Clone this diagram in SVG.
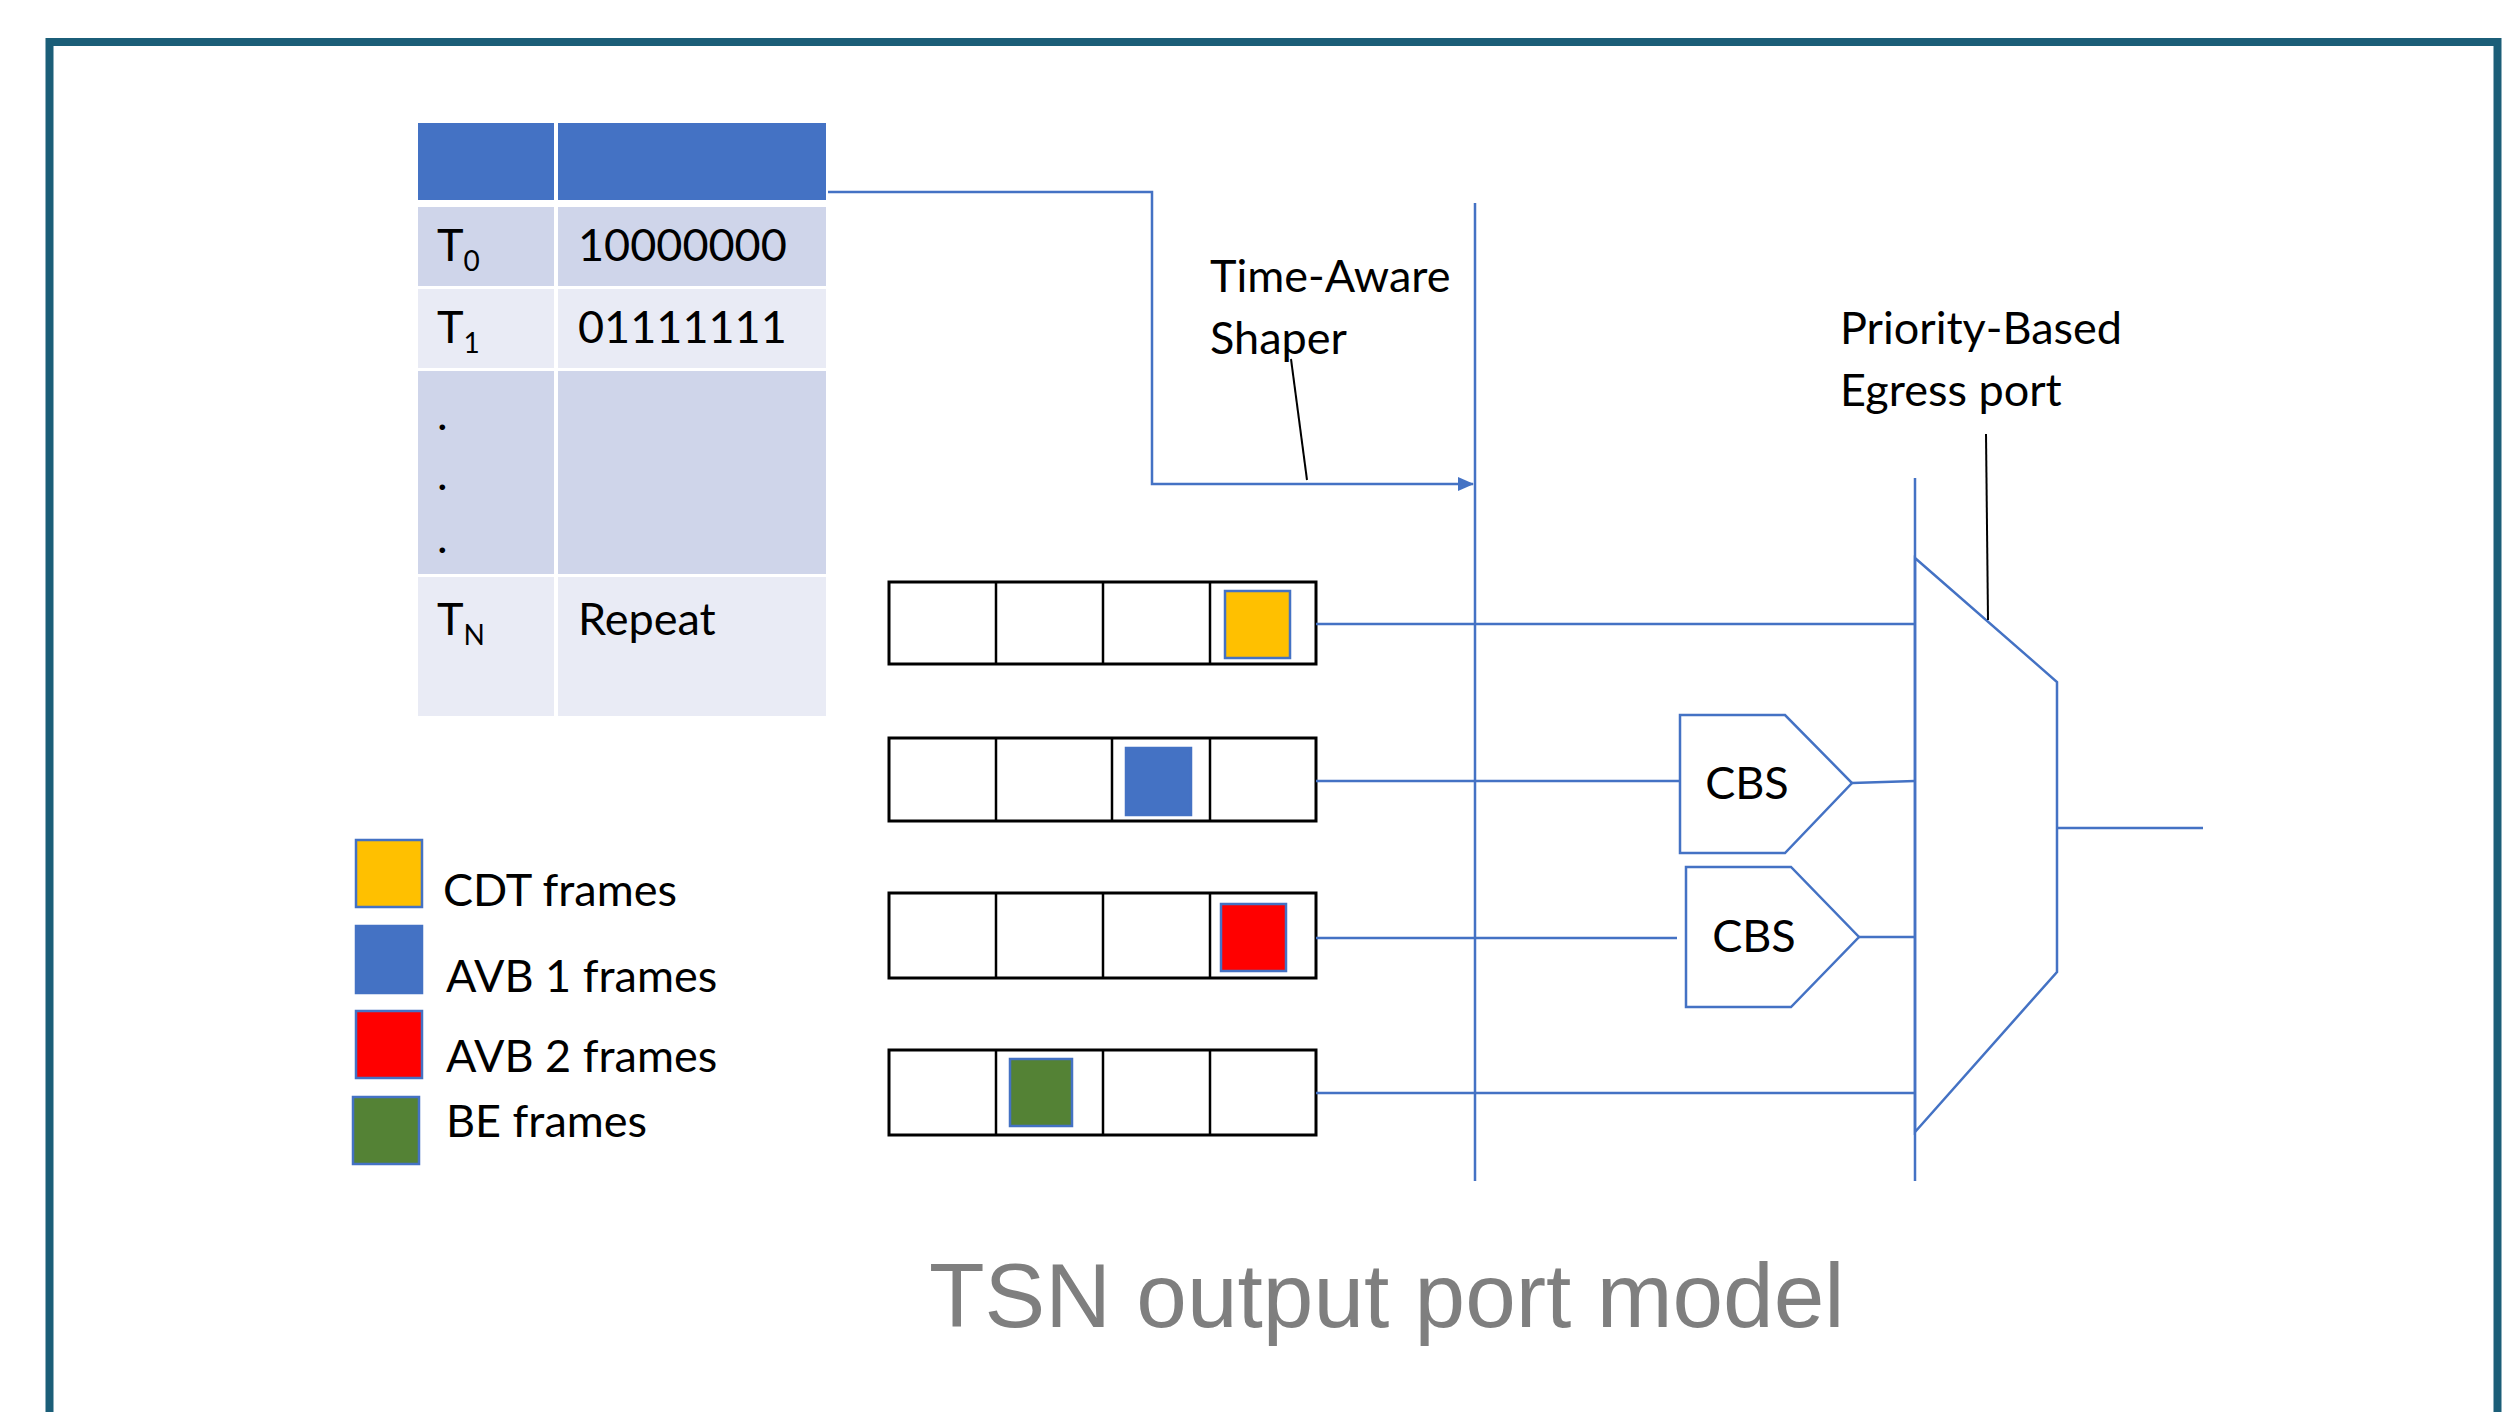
<svg xmlns="http://www.w3.org/2000/svg" width="2508" height="1412" viewBox="0 0 2508 1412">
<style>
.t{font-family:Lato,"Open Sans","Liberation Sans",sans-serif;fill:#000;font-size:45px}
.sub{font-size:28px}
.ln{fill:none;stroke:#4472C4;stroke-width:2.5}
.ld{fill:none;stroke:#000;stroke-width:2}
.q{fill:#fff;stroke:#000;stroke-width:3}
.qd{stroke:#000;stroke-width:2.5}
.blk{stroke:#4472C4;stroke-width:2.5}
.sh{fill:#fff;stroke:#4472C4;stroke-width:2.5}
</style>
<defs>
<marker id="arr" markerWidth="16" markerHeight="14" refX="15" refY="7" orient="auto" markerUnits="userSpaceOnUse" viewBox="0 0 16 14">
<path d="M0,0 L16,7 L0,14 z" fill="#4472C4"/>
</marker>
</defs>
<rect width="2508" height="1412" fill="#fff"/>
<path d="M49.5,1420 V42 H2497.5 V1420" fill="none" stroke="#1B5E78" stroke-width="8"/>

<g id="gate-table">
<rect x="418" y="123" width="136" height="77" fill="#4472C4"/>
<rect x="558" y="123" width="268" height="77" fill="#4472C4"/>
<rect x="418" y="207" width="136" height="79" fill="#CFD5EA"/>
<rect x="558" y="207" width="268" height="79" fill="#CFD5EA"/>
<rect x="418" y="289" width="136" height="79" fill="#E9EBF5"/>
<rect x="558" y="289" width="268" height="79" fill="#E9EBF5"/>
<rect x="418" y="371" width="136" height="203" fill="#CFD5EA"/>
<rect x="558" y="371" width="268" height="203" fill="#CFD5EA"/>
<rect x="418" y="577" width="136" height="139" fill="#E9EBF5"/>
<rect x="558" y="577" width="268" height="139" fill="#E9EBF5"/>
<text class="t" x="437" y="261">T<tspan class="sub" dy="10">0</tspan></text>
<text class="t" x="578" y="261">10000000</text>
<text class="t" x="437" y="343">T<tspan class="sub" dy="10">1</tspan></text>
<text class="t" x="578" y="343">01111111</text>
<text class="t" x="437" y="430">.</text>
<text class="t" x="437" y="490">.</text>
<text class="t" x="437" y="553">.</text>
<text class="t" x="437" y="635">T<tspan class="sub" dy="10">N</tspan></text>
<text class="t" x="578" y="635">Repeat</text>
</g>

<g id="tas-label">
<text class="t" x="1210" y="292">Time-Aware</text>
<text class="t" x="1210" y="354">Shaper</text>
</g>
<g id="egress-label">
<text class="t" x="1840" y="344">Priority-Based</text>
<text class="t" x="1840" y="406">Egress port</text>
</g>

<g id="queue-cdt">
<rect class="q" x="889" y="582" width="427" height="82"/>
<line class="qd" x1="996" y1="582" x2="996" y2="664"/>
<line class="qd" x1="1103" y1="582" x2="1103" y2="664"/>
<line class="qd" x1="1210" y1="582" x2="1210" y2="664"/>
<rect class="blk" x="1225" y="591" width="65" height="67" fill="#FFC000"/>
</g>
<g id="queue-avb1">
<rect class="q" x="889" y="738" width="427" height="83"/>
<line class="qd" x1="996" y1="738" x2="996" y2="821"/>
<line class="qd" x1="1112" y1="738" x2="1112" y2="821"/>
<line class="qd" x1="1210" y1="738" x2="1210" y2="821"/>
<rect class="blk" x="1126" y="748" width="65" height="67" fill="#4472C4"/>
</g>
<g id="queue-avb2">
<rect class="q" x="889" y="893" width="427" height="85"/>
<line class="qd" x1="996" y1="893" x2="996" y2="978"/>
<line class="qd" x1="1103" y1="893" x2="1103" y2="978"/>
<line class="qd" x1="1210" y1="893" x2="1210" y2="978"/>
<rect class="blk" x="1221" y="904" width="65" height="67" fill="#FF0000"/>
</g>
<g id="queue-be">
<rect class="q" x="889" y="1050" width="427" height="85"/>
<line class="qd" x1="996" y1="1050" x2="996" y2="1135"/>
<line class="qd" x1="1103" y1="1050" x2="1103" y2="1135"/>
<line class="qd" x1="1210" y1="1050" x2="1210" y2="1135"/>
<rect class="blk" x="1010" y="1059" width="62" height="67" fill="#548235"/>
</g>

<g id="cbs1">
<path class="sh" d="M1680,715 H1785 L1852,783 L1785,853 H1680 Z"/>
<text class="t" x="1747" y="799" text-anchor="middle">CBS</text>
</g>
<g id="cbs2">
<path class="sh" d="M1686,867 H1791 L1859,937 L1791,1007 H1686 Z"/>
<text class="t" x="1754" y="952" text-anchor="middle">CBS</text>
</g>

<g id="mux">
<path class="sh" d="M1915,558 L2057,682 V972 L1915,1132 Z"/>
</g>

<g id="legend">
<rect class="blk" x="356" y="840" width="66" height="67" fill="#FFC000"/>
<rect class="blk" x="356" y="926" width="66" height="67" fill="#4472C4"/>
<rect class="blk" x="356" y="1011" width="66" height="67" fill="#FF0000"/>
<rect class="blk" x="353" y="1097" width="66" height="67" fill="#548235"/>
<text class="t" x="443" y="906">CDT frames</text>
<text class="t" x="446" y="992">AVB 1 frames</text>
<text class="t" x="446" y="1072">AVB 2 frames</text>
<text class="t" x="446" y="1137">BE frames</text>
</g>

<g id="connectors">
<line class="ln" x1="1475" y1="203" x2="1475" y2="1181"/>
<line class="ln" x1="1915" y1="478" x2="1915" y2="1181"/>
<path class="ln" d="M828,192 H1152 V484 H1473" marker-end="url(#arr)"/>
<line class="ld" x1="1291" y1="359" x2="1307" y2="480"/>
<line class="ld" x1="1986" y1="434" x2="1988" y2="620"/>
<line class="ln" x1="1316" y1="624" x2="1915" y2="624"/>
<line class="ln" x1="1316" y1="781" x2="1680" y2="781"/>
<line class="ln" x1="1852" y1="783" x2="1915" y2="781"/>
<line class="ln" x1="1316" y1="938" x2="1677" y2="938"/>
<line class="ln" x1="1859" y1="937" x2="1915" y2="937"/>
<line class="ln" x1="1316" y1="1093" x2="1915" y2="1093"/>
<line class="ln" x1="2057" y1="828" x2="2203" y2="828"/>
</g>

<g id="title">
<text x="929" y="1327" font-family="'Liberation Sans',Arial,sans-serif" font-size="91" fill="#7F7F7F">TSN output port model</text>
</g>
</svg>
